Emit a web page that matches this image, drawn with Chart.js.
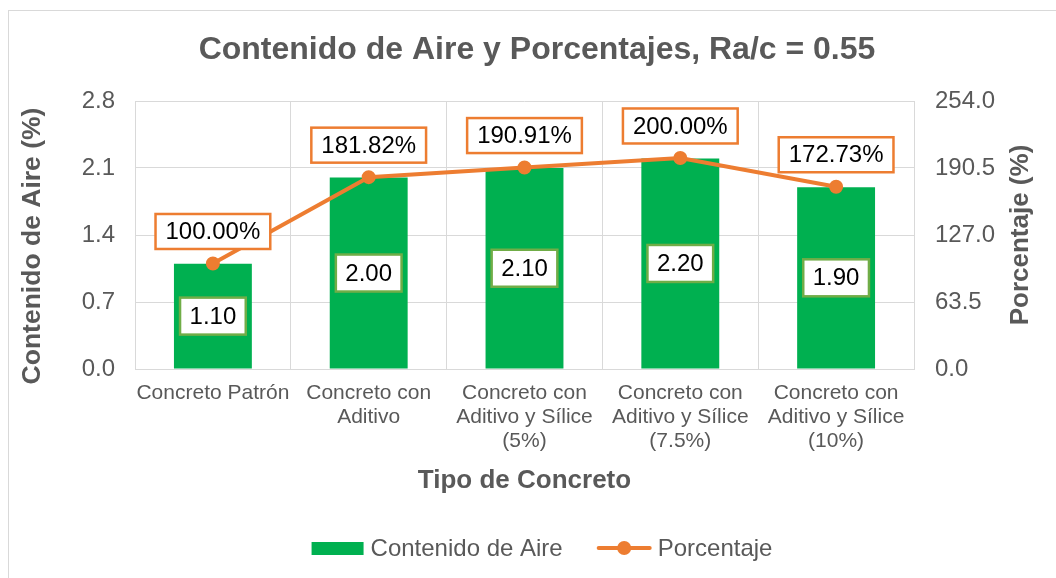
<!DOCTYPE html>
<html lang="es">
  <head>
    <meta charset="UTF-8" />
    <title>Contenido de Aire y Porcentajes</title>
    <script src="https://cdn.jsdelivr.net/npm/chart.js@4.4.1/dist/chart.umd.min.js"></script>
    <style>
      body {
        margin: 0;
        background-color: #fff;
      }

      .frame {
        position: absolute;
        left: 8px;
        top: 10px;
        width: 1100px;
        height: 600px;
        border-left: 1px solid #d9d9d9;
        border-top: 1px solid #d9d9d9;
      }

      #airChart {
        position: absolute;
        left: 0;
        top: 0;
      }
    </style>
  </head>
  <body>
    <div class="frame"></div>
    <canvas id="airChart" width="1056" height="578"></canvas>

    <script>
      // Data
      const categories = [
        "Concreto Patrón",
        ["Concreto con", "Aditivo"],
        ["Concreto con", "Aditivo y Sílice", "(5%)"],
        ["Concreto con", "Aditivo y Sílice", "(7.5%)"],
        ["Concreto con", "Aditivo y Sílice", "(10%)"],
      ];
      const contenidoAire = [1.1, 2.0, 2.1, 2.2, 1.9];
      const porcentaje = [100.0, 181.82, 190.91, 200.0, 172.73];
      const ticksAire = [0, 0.7, 1.4, 2.1, 2.8];
      const ticksPorcentaje = [0, 63.5, 127, 190.5, 254];

      const FONT = "'Liberation Sans', Arial, sans-serif";
      const GREY = "#595959";
      const GREEN = "#00B050";
      const ORANGE = "#ED7D31";

      Chart.defaults.font.family = FONT;
      Chart.defaults.color = GREY;

      function drawBox(ctx, text, cx, cy, padX, h, borderColor) {
        const w = ctx.measureText(text).width + padX * 2;
        ctx.fillStyle = "#fff";
        ctx.fillRect(cx - w / 2, cy - h / 2, w, h);
        ctx.strokeStyle = borderColor;
        ctx.lineWidth = 2.5;
        ctx.strokeRect(cx - w / 2, cy - h / 2, w, h);
        ctx.fillStyle = "#000";
        ctx.fillText(text, cx, cy + 1);
      }

      // value boxes on bars and points
      const valueBoxes = {
        id: "valueBoxes",
        afterDatasetsDraw(chart) {
          const ctx = chart.ctx;
          ctx.save();
          ctx.font = "24px " + FONT;
          ctx.textAlign = "center";
          ctx.textBaseline = "middle";

          const bars = chart.getDatasetMeta(0).data;
          bars.forEach((bar, i) => {
            const cy = (bar.y + bar.base) / 2;
            drawBox(ctx, contenidoAire[i].toFixed(2), bar.x, cy, 9.5, 37, "#70AD47");
          });

          const points = chart.getDatasetMeta(1).data;
          points.forEach((pt, i) => {
            drawBox(ctx, porcentaje[i].toFixed(2) + "%", pt.x, pt.y - 32, 10, 35, ORANGE);
          });
          ctx.restore();
        },
      };

      function verticalTitle(ctx, text, x, y) {
        ctx.save();
        ctx.translate(x, y);
        ctx.rotate(-Math.PI / 2);
        ctx.fillText(text, 0, 0);
        ctx.restore();
      }

      // axis titles (both read bottom-to-top) and legend
      const extras = {
        id: "extras",
        afterDraw(chart) {
          const ctx = chart.ctx;
          const area = chart.chartArea;
          ctx.save();

          ctx.font = "bold 26.5px " + FONT;
          ctx.fillStyle = GREY;
          ctx.textAlign = "center";
          ctx.textBaseline = "middle";
          verticalTitle(ctx, "Contenido de Aire (%)", 33, 246);
          ctx.font = "bold 26px " + FONT;
          verticalTitle(ctx, "Porcentaje (%)", 1021, (area.top + area.bottom) / 2);

          ctx.font = "24px " + FONT;
          ctx.textAlign = "left";
          const ds = chart.data.datasets;
          const w1 = ctx.measureText(ds[0].label).width;
          const w2 = ctx.measureText(ds[1].label).width;
          const total = 52 + 7 + w1 + 34 + 55 + 6 + w2;
          let x = 542 - total / 2;
          const y = 548;

          ctx.fillStyle = ds[0].backgroundColor;
          ctx.fillRect(x, y - 6, 52, 13);
          x += 52 + 7;
          ctx.fillStyle = GREY;
          ctx.fillText(ds[0].label, x, y + 1);
          x += w1 + 34;

          ctx.strokeStyle = ds[1].borderColor;
          ctx.lineWidth = 4;
          ctx.lineCap = "round";
          ctx.beginPath();
          ctx.moveTo(x + 2, y);
          ctx.lineTo(x + 53, y);
          ctx.stroke();
          ctx.fillStyle = ds[1].borderColor;
          ctx.beginPath();
          ctx.arc(x + 27.5, y, 7, 0, Math.PI * 2);
          ctx.fill();
          x += 55 + 6;
          ctx.fillStyle = GREY;
          ctx.fillText(ds[1].label, x, y + 1);

          ctx.restore();
        },
      };

      const config = {
        data: {
          labels: categories,
          datasets: [
            {
              type: "bar",
              label: "Contenido de Aire",
              data: contenidoAire,
              backgroundColor: GREEN,
              yAxisID: "y",
              categoryPercentage: 1,
              barPercentage: 0.5,
              order: 1,
            },
            {
              type: "line",
              label: "Porcentaje",
              data: porcentaje,
              borderColor: ORANGE,
              backgroundColor: ORANGE,
              borderWidth: 4,
              pointRadius: 6,
              pointBorderWidth: 2,
              pointBackgroundColor: ORANGE,
              pointBorderColor: ORANGE,
              yAxisID: "y1",
              order: 0,
            },
          ],
        },
        options: {
          responsive: false,
          animation: false,
          layout: { padding: { left: 18, right: 0, top: 0, bottom: 0 } },
          plugins: {
            legend: { display: false },
            tooltip: { enabled: false },
            title: {
              display: true,
              text: "Contenido de Aire y Porcentajes, Ra/c = 0.55",
              color: GREY,
              font: { size: 32, weight: "bold", lineHeight: 1.2 },
              padding: { top: 31, bottom: 31.6 },
            },
          },
          scales: {
            x: {
              offset: true,
              grid: { color: "#d9d9d9", offset: true, drawTicks: false },
              border: { color: "#d9d9d9" },
              ticks: {
                color: GREY,
                padding: 12,
                maxRotation: 0,
                autoSkip: false,
                font: { size: 21, lineHeight: 1.143 },
              },
              title: {
                display: true,
                text: "Tipo de Concreto",
                color: GREY,
                font: { size: 26, weight: "bold", lineHeight: 1.2 },
                padding: { top: 0, bottom: 82 },
              },
              afterFit(scale) {
                scale.height = 209;
              },
            },
            y: {
              position: "left",
              min: 0,
              max: 2.8,
              grid: { color: "#d9d9d9", drawTicks: false },
              border: { display: false },
              afterBuildTicks(scale) {
                scale.ticks = ticksAire.map((v) => ({ value: v }));
              },
              ticks: {
                color: GREY,
                padding: 20,
                font: { size: 24 },
                callback: (v) => Number(v).toFixed(1),
              },
              afterFit(scale) {
                scale.width = 117;
              },
            },
            y1: {
              position: "right",
              min: 0,
              max: 254,
              grid: { display: false, drawTicks: false },
              border: { display: false },
              afterBuildTicks(scale) {
                scale.ticks = ticksPorcentaje.map((v) => ({ value: v }));
              },
              ticks: {
                color: GREY,
                padding: 21,
                font: { size: 24 },
                callback: (v) => Number(v).toFixed(1),
              },
              afterFit(scale) {
                scale.width = 142;
              },
            },
          },
        },
        plugins: [valueBoxes, extras],
      };

      const airChart = new Chart(document.getElementById("airChart"), config);
    </script>
  </body>
</html>
